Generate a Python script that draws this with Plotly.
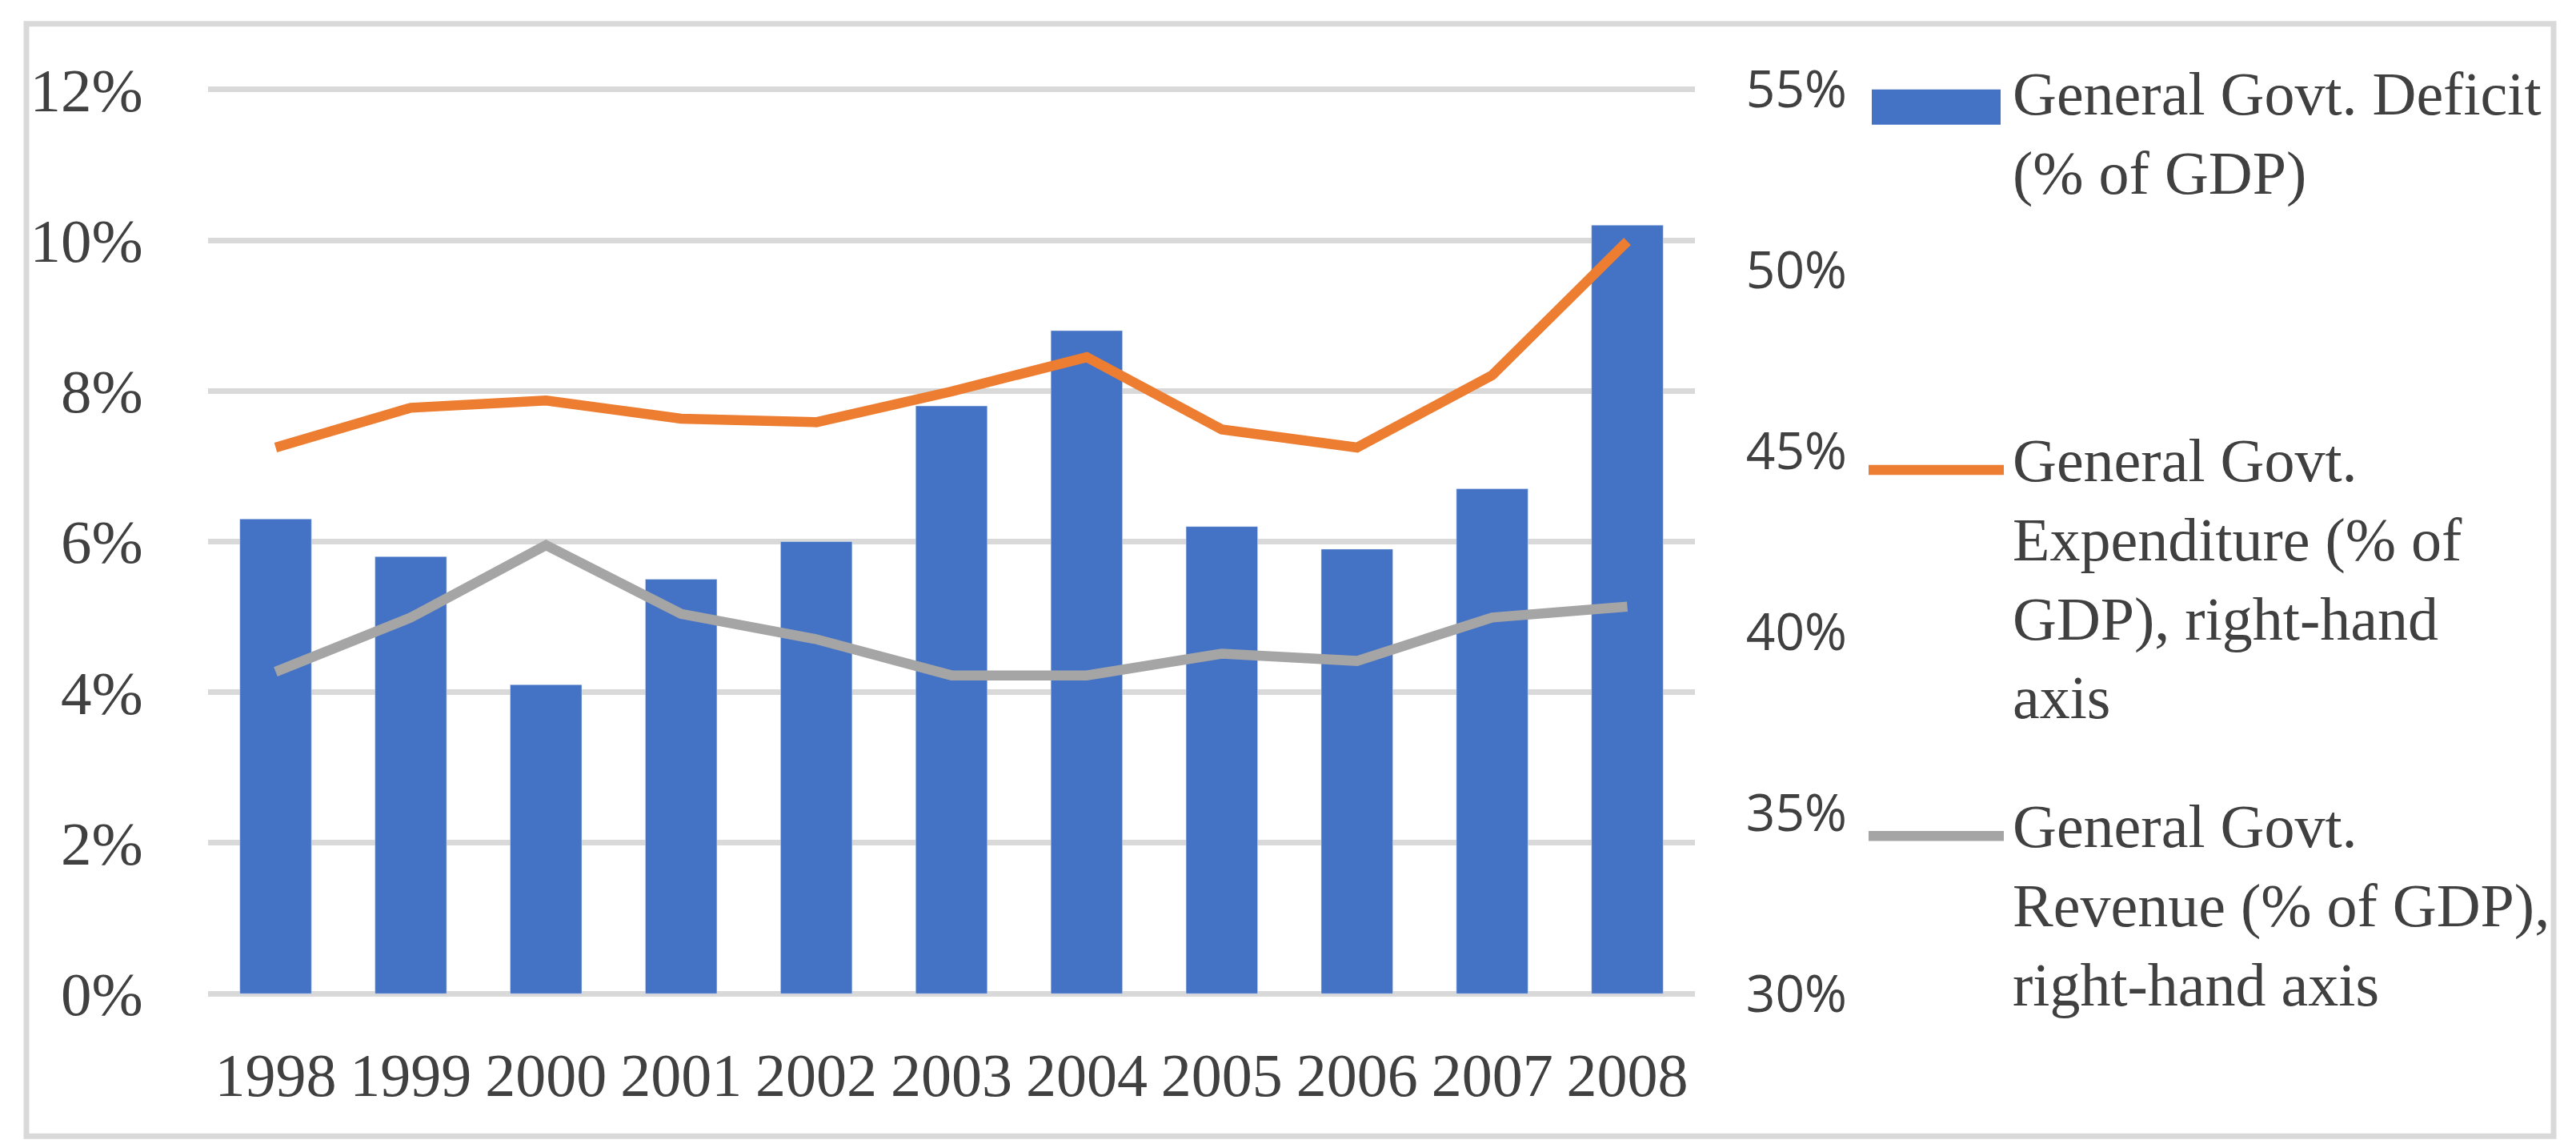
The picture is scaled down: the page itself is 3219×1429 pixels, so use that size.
import plotly.graph_objects as go

years = ["1998", "1999", "2000", "2001", "2002", "2003", "2004", "2005", "2006", "2007", "2008"]
deficit = [6.3, 5.8, 4.1, 5.5, 6.0, 7.8, 8.8, 6.2, 5.9, 6.7, 10.2]
expenditure = [45.1, 46.2, 46.4, 45.9, 45.8, 46.65, 47.6, 45.6, 45.1, 47.1, 50.8]
revenue = [38.9, 40.4, 42.4, 40.5, 39.8, 38.8, 38.8, 39.4, 39.2, 40.4, 40.7]
left_ticks = [0, 2, 4, 6, 8, 10, 12]
right_ticks = [30, 35, 40, 45, 50, 55]
names = ["General Govt. Deficit (% of GDP)",
         "General Govt. Expenditure (% of GDP), right-hand axis",
         "General Govt. Revenue (% of GDP), right-hand axis"]
legend_text = ["General Govt. Deficit<br>(% of GDP)",
               "General Govt.<br>Expenditure (% of<br>GDP), right-hand<br>axis",
               "General Govt.<br>Revenue (% of GDP),<br>right-hand axis"]

BLUE, ORANGE, GRAY = "#4472C4", "#ED7D31", "#A5A5A5"
W, H = 3219, 1429
LW = 12.5

# pixel positions of the 12% and 0% gridlines, plus a small pad so edge gridlines show
TOP_GRID, BOT_GRID = 104, 1233
L0, L1 = 0.0, 12.0
R0, R1 = 30.0, 55.0
PADV = 0.04  # in left-axis units
ppu = (BOT_GRID - TOP_GRID) / (L1 - L0)
PT = TOP_GRID - PADV * ppu
PB = BOT_GRID + PADV * ppu
PL, PR = 252, 2110
PW, PH = PR - PL, PB - PT
rpad = PADV * (R1 - R0) / (L1 - L0)

def px(x):
    return (x - PL) / PW

def py(y):
    return (PB - y) / PH

fig = go.Figure()
fig.add_trace(go.Bar(x=years, y=deficit, name=names[0], marker_color=BLUE, yaxis="y"))
fig.add_trace(go.Scatter(x=years, y=expenditure, name=names[1], mode="lines",
                         line=dict(color=ORANGE, width=LW), yaxis="y2"))
fig.add_trace(go.Scatter(x=years, y=revenue, name=names[2], mode="lines",
                         line=dict(color=GRAY, width=LW), yaxis="y2"))

serif = "Liberation Serif"
tick_color = "#404040"

shapes = [dict(type="rect", xref="paper", yref="paper",
               x0=px(25), x1=px(3183), y0=py(1411), y1=py(22),
               line=dict(color="#D9D9D9", width=7), fillcolor="rgba(0,0,0,0)", layer="below")]
# legend symbols
shapes.append(dict(type="rect", xref="paper", yref="paper", x0=px(2331), x1=px(2492),
                   y0=py(148), y1=py(104), fillcolor=BLUE, line=dict(width=0)))
shapes.append(dict(type="line", xref="paper", yref="paper", x0=px(2327), x1=px(2496),
                   y0=py(579), y1=py(579), line=dict(color=ORANGE, width=LW)))
shapes.append(dict(type="line", xref="paper", yref="paper", x0=px(2327), x1=px(2496),
                   y0=py(1036), y1=py(1036), line=dict(color=GRAY, width=LW)))

annotations = []
first_line_centers = [117, 575, 1032]
for txt, c in zip(legend_text, first_line_centers):
    annotations.append(dict(xref="paper", yref="paper", x=px(2505), y=py(c - 52),
                            xanchor="left", yanchor="top", align="left", showarrow=False,
                            text=txt, font=dict(family=serif, size=76, color=tick_color)))

fig.update_layout(
    width=W, height=H,
    margin=dict(l=PL, r=W - PR, t=PT, b=H - PB, pad=0),
    paper_bgcolor="white", plot_bgcolor="white",
    showlegend=False,
    bargap=0.47,
    xaxis=dict(type="category", showgrid=False, showline=False, zeroline=False,
               ticks="outside", ticklen=32, tickcolor="rgba(0,0,0,0)",
               tickfont=dict(family=serif, size=76, color=tick_color)),
    yaxis=dict(range=[L0 - PADV, L1 + PADV], tickvals=left_ticks,
               ticktext=[f"{v}%" for v in left_ticks],
               showgrid=True, gridcolor="#D9D9D9", gridwidth=7, zeroline=False, showline=False,
               ticks="outside", ticklen=65, tickcolor="rgba(0,0,0,0)",
               tickfont=dict(family=serif, size=77, color=tick_color)),
    yaxis2=dict(range=[R0 - rpad, R1 + rpad], tickvals=right_ticks,
                ticktext=[f"{v}%" for v in right_ticks],
                overlaying="y", side="right", showgrid=False, zeroline=False, showline=False,
                ticks="outside", ticklen=50, tickcolor="rgba(0,0,0,0)",
                tickfont=dict(family="Open Sans", size=64, color=tick_color)),
    shapes=shapes,
    annotations=annotations,
)

fig.write_html("out.html")
